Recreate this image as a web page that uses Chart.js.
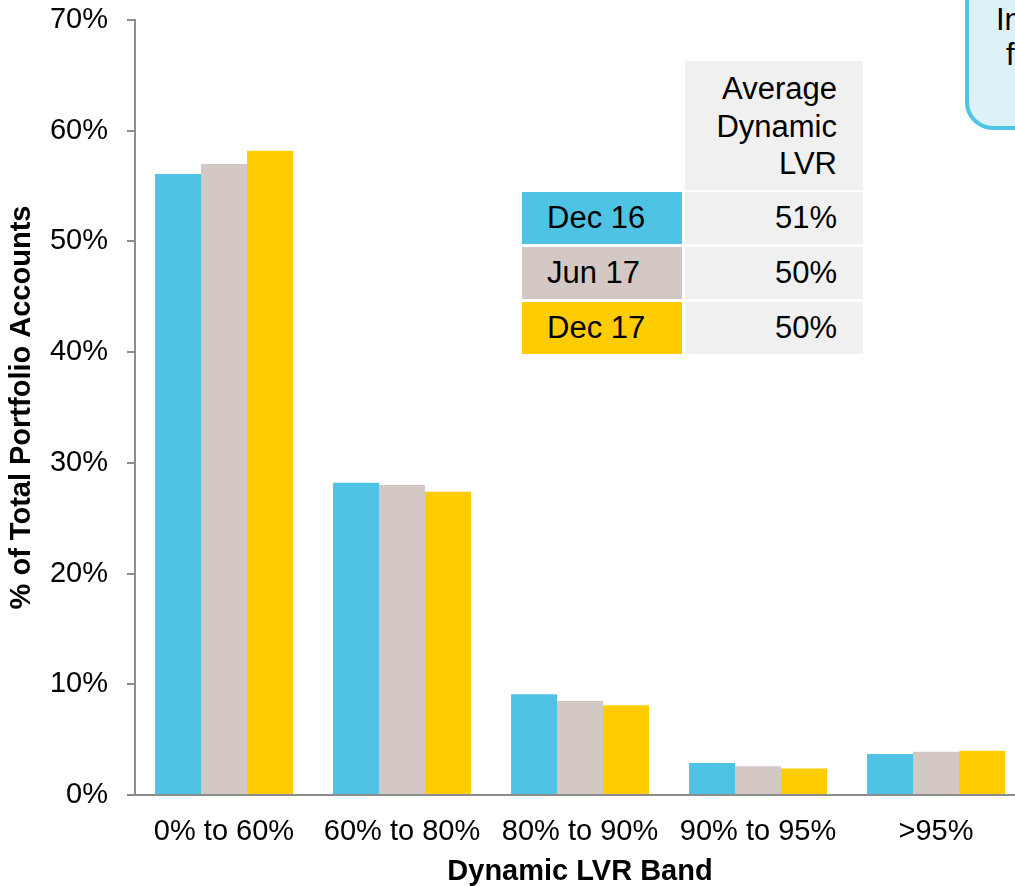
<!DOCTYPE html>
<html>
<head>
<meta charset="utf-8">
<script src="https://cdn.jsdelivr.net/npm/chart.js@4"></script>
<style>
  html, body { margin:0; padding:0; background:#fff; }
  body { width:1015px; height:886px; overflow:hidden; position:relative; font-family:'Liberation Sans', Arial, sans-serif; }
  #wrap { position:absolute; left:0; top:0; width:1040px; height:886px; }
  .cell { position:absolute; box-sizing:border-box; font-size:31px; color:#000; display:flex; align-items:center; }
  .note { position:absolute; left:965px; top:-40px; width:120px; height:170px; box-sizing:border-box;
          border:4px solid #4FC3E4; border-radius:28px; background:#DCF1F8; }
  .notetxt { position:absolute; font-size:31px; color:#000; line-height:31px; }
</style>
</head>
<body>
<div id="wrap"><canvas id="c" width="1040" height="886"></canvas></div>
<div id="table"></div>
<div class="note"></div>
<div class="notetxt" id="n1" style="left:996px; top:4px;"></div>
<div class="notetxt" id="n2" style="left:1006px; top:39px;"></div>
<script>
const categories = ['0% to 60%', '60% to 80%', '80% to 90%', '90% to 95%', '>95%'];
const seriesNames = ['Dec 16', 'Jun 17', 'Dec 17'];
const dec16 = [56.1, 28.2, 9.1, 2.9, 3.7];
const jun17 = [57.0, 28.0, 8.5, 2.6, 3.9];
const dec17 = [58.2, 27.4, 8.1, 2.4, 4.0];
const yTicks = [0, 10, 20, 30, 40, 50, 60, 70];
const tableHeader = ['Average', 'Dynamic', 'LVR'];
const avgLVR = ['51%', '50%', '50%'];
const noteVisible = ['In', 'f'];

const colors = ['#4FC3E3', '#D3C8C3', '#FFCC00'];
const FONT = "'Liberation Sans', Arial, sans-serif";
const AXIS = '#8C8C8C';

new Chart(document.getElementById('c'), {
  type: 'bar',
  data: {
    labels: categories,
    datasets: [dec16, jun17, dec17].map((d, i) => ({
      label: seriesNames[i],
      data: d,
      backgroundColor: colors[i],
      borderWidth: 0,
      categoryPercentage: 0.775,
      barPercentage: 1.0
    }))
  },
  options: {
    responsive: false,
    devicePixelRatio: 1,
    animation: false,
    layout: { padding: { top: 20, right: 15, bottom: 0, left: 0 } },
    plugins: { legend: { display: false }, tooltip: { enabled: false } },
    scales: {
      x: {
        grid: { display: false, drawTicks: false },
        border: { display: true, color: AXIS, width: 2 },
        ticks: { color: '#000', padding: 20, maxRotation: 0, autoSkip: false, font: { family: FONT, size: 29 } },
        title: { display: true, text: 'Dynamic LVR Band', color: '#000', padding: { top: 0, bottom: -3 },
                 font: { family: FONT, size: 29, weight: 'bold' } },
        afterFit: s => { s.height = 91; s.paddingLeft = 0; s.paddingRight = 0; }
      },
      y: {
        min: 0, max: 70,
        afterBuildTicks: s => { s.ticks = yTicks.map(v => ({ value: v })); },
        grid: { display: true, drawOnChartArea: false, drawTicks: true, tickLength: 8, color: AXIS, lineWidth: 2 },
        border: { display: true, color: AXIS, width: 2 },
        ticks: { color: '#000', padding: 19, font: { family: FONT, size: 29 }, callback: v => v + '%' },
        title: { display: true, text: '% of Total Portfolio Accounts', color: '#000', padding: { top: 5, bottom: 0 },
                 font: { family: FONT, size: 29, weight: 'bold' } },
        afterFit: s => { s.width = 135; s.paddingTop = 0; s.paddingBottom = 0; }
      }
    }
  }
});

// Summary table (HTML overlay)
const t = document.getElementById('table');
function addCell(x, y, w, h, bg, html, extra) {
  const d = document.createElement('div');
  d.className = 'cell';
  d.style.left = x + 'px'; d.style.top = y + 'px';
  d.style.width = w + 'px'; d.style.height = h + 'px';
  d.style.background = bg;
  Object.assign(d.style, extra || {});
  d.innerHTML = html;
  t.appendChild(d);
}
addCell(685, 61, 178, 129, '#F0F0F0', tableHeader.join('<br>'),
  { alignItems: 'flex-start', justifyContent: 'flex-end', textAlign: 'right', paddingRight: '26px', paddingTop: '9px', lineHeight: '37.5px' });
const rowTops = [192, 247, 302];
seriesNames.forEach((name, i) => {
  addCell(522, rowTops[i], 160, 52, colors[i], name, { paddingLeft: '25px' });
  addCell(685, rowTops[i], 178, 52, '#F0F0F0', avgLVR[i], { justifyContent: 'flex-end', paddingRight: '26px' });
});
document.getElementById('n1').textContent = noteVisible[0];
document.getElementById('n2').textContent = noteVisible[1];
</script>
</body>
</html>
